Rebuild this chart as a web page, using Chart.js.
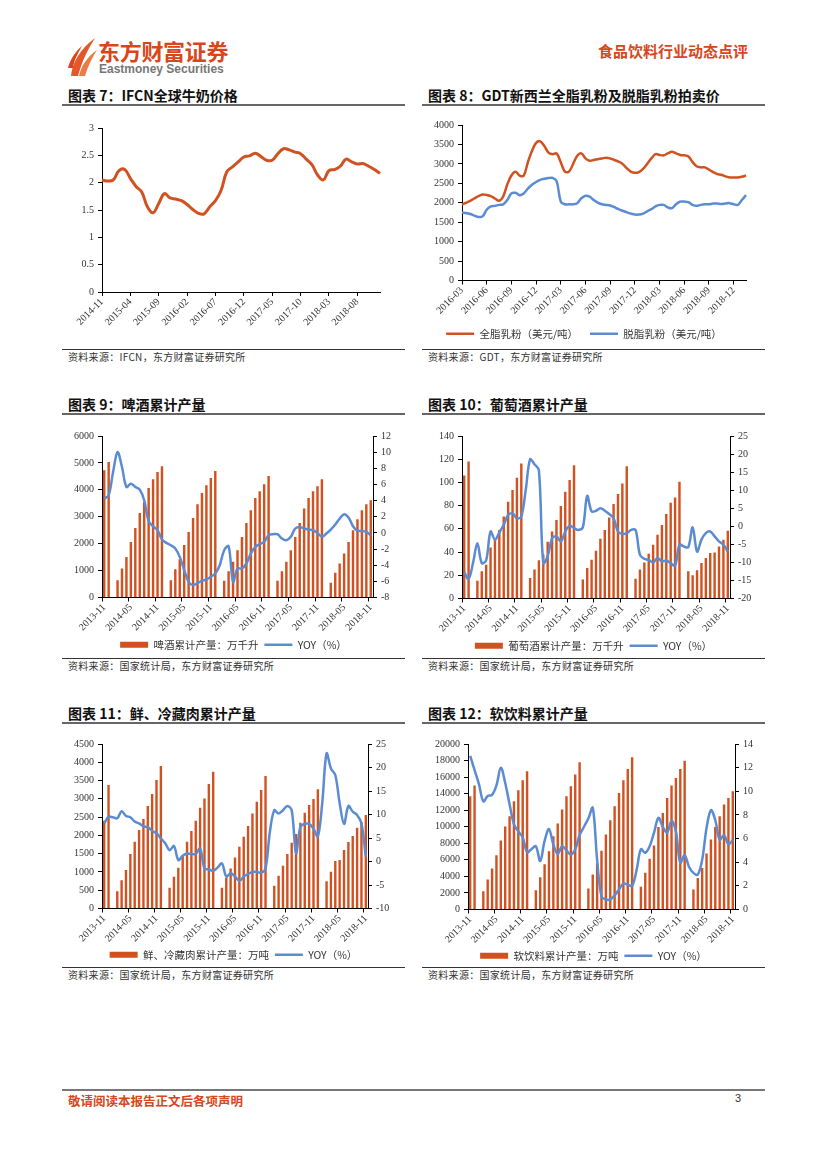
<!DOCTYPE html>
<html>
<head>
<meta charset="utf-8">
<script src="https://cdn.jsdelivr.net/npm/chart.js@4.4.0/dist/chart.umd.min.js"></script>
<style>
body { margin: 0; background: #fff; width: 827px; height: 1169px; position: relative; overflow: hidden; font-family: "Noto Sans CJK SC", sans-serif; }
.abs { position: absolute; }
.title { position: absolute; font-size: 14px; font-weight: bold; color: #111; line-height: 18px; white-space: nowrap; }
.rule { position: absolute; height: 0; border-top: 2px solid #666; }
.srule { position: absolute; height: 0; border-top: 1px solid #333; }
.src { position: absolute; font-size: 10px; color: #333; line-height: 12px; letter-spacing: 0.3px; white-space: nowrap; }
canvas { position: absolute; }
</style>
</head>
<body>

<svg class="abs" style="left:68px;top:37px" width="30" height="40" viewBox="0 0 30 40">
  <path d="M3 39 C4 26 12 12 27 1 C20 12 14 24 10 39 Z" fill="#E4572A"/>
  <path d="M11 39 C13 29 19 20 29 13 C24 21 20 29 17 39 Z" fill="#EE7A45"/>
  <path d="M0 31 C2 23 7 15 14 9 C10 16 6 23 5 31 Z" fill="#D9441C"/>
</svg>
<div class="abs" style="left:98px;top:37px;font-size:22px;font-weight:bold;color:#D8461B;line-height:26px;letter-spacing:-0.3px">东方财富证券</div>
<div class="abs" style="left:99px;top:62px;font-family:'Liberation Sans',sans-serif;font-size:12px;font-weight:bold;color:#777;line-height:14px">Eastmoney Securities</div>
<div class="abs" style="left:598px;top:42px;font-size:15px;font-weight:bold;color:#D8461B;line-height:18px">食品饮料行业动态点评</div>

<div class="title" style="left:68px;top:86px">图表 7：IFCN全球牛奶价格</div>
<div class="title" style="left:428px;top:86px">图表 8：GDT新西兰全脂乳粉及脱脂乳粉拍卖价</div>
<div class="rule" style="left:62px;top:104px;width:343px"></div>
<div class="rule" style="left:422px;top:104px;width:343px"></div>
<div class="srule" style="left:62px;top:349px;width:343px"></div>
<div class="srule" style="left:422px;top:349px;width:343px"></div>
<div class="src" style="left:68px;top:351px">资料来源：IFCN，东方财富证券研究所</div>
<div class="src" style="left:428px;top:351px">资料来源：GDT，东方财富证券研究所</div>

<div class="title" style="left:68px;top:395px">图表 9：啤酒累计产量</div>
<div class="title" style="left:428px;top:395px">图表 10：葡萄酒累计产量</div>
<div class="rule" style="left:62px;top:413px;width:343px"></div>
<div class="rule" style="left:422px;top:413px;width:343px"></div>
<div class="srule" style="left:62px;top:658px;width:343px"></div>
<div class="srule" style="left:422px;top:658px;width:343px"></div>
<div class="src" style="left:68px;top:660px">资料来源：国家统计局，东方财富证券研究所</div>
<div class="src" style="left:428px;top:660px">资料来源：国家统计局，东方财富证券研究所</div>

<div class="title" style="left:68px;top:704px">图表 11：鲜、冷藏肉累计产量</div>
<div class="title" style="left:428px;top:704px">图表 12：软饮料累计产量</div>
<div class="rule" style="left:62px;top:722px;width:343px"></div>
<div class="rule" style="left:422px;top:722px;width:343px"></div>
<div class="srule" style="left:62px;top:967px;width:343px"></div>
<div class="srule" style="left:422px;top:967px;width:343px"></div>
<div class="src" style="left:68px;top:969px">资料来源：国家统计局，东方财富证券研究所</div>
<div class="src" style="left:428px;top:969px">资料来源：国家统计局，东方财富证券研究所</div>

<canvas id="c7" width="343" height="222" style="left:62px;top:115px"></canvas>
<canvas id="c8" width="343" height="237" style="left:422px;top:112px"></canvas>
<canvas id="c9" width="343" height="237" style="left:62px;top:423px"></canvas>
<canvas id="c10" width="343" height="238" style="left:422px;top:423px"></canvas>
<canvas id="c11" width="343" height="239" style="left:62px;top:731px"></canvas>
<canvas id="c12" width="343" height="240" style="left:422px;top:731px"></canvas>

<div class="abs" style="left:62px;top:1089px;width:703px;border-top:2px solid #777"></div>
<div class="abs" style="left:68px;top:1093px;font-size:12.5px;font-weight:bold;color:#D8461B;line-height:16px">敬请阅读本报告正文后各项声明</div>
<div class="abs" style="left:735px;top:1092px;font-family:'Liberation Sans',sans-serif;font-size:11px;color:#333">3</div>

<script>
// month labels like 2013-11
function months(year, month, n) {
  const out = []
  for (let i = 0; i < n; i++) {
    const m = month - 1 + i
    out.push((year + Math.floor(m / 12)) + '-' + String(m % 12 + 1).padStart(2, '0'))
  }
  return out
}

// IFCN milk price
const milkMonths = months(2014, 11, 50)
const milkTicks = ['2014-11', '2015-04', '2015-09', '2016-02', '2016-07', '2016-12', '2017-05', '2017-10', '2018-03', '2018-08']
const milkPrice = [2.05, 2.03, 2.05, 2.22, 2.24, 2.08, 1.93, 1.83, 1.56, 1.45, 1.62, 1.80, 1.72, 1.70,
  1.67, 1.60, 1.51, 1.44, 1.43, 1.56, 1.67, 1.86, 2.20, 2.29, 2.38, 2.47,
  2.49, 2.54, 2.48, 2.41, 2.41, 2.53, 2.62, 2.60, 2.56, 2.53, 2.43, 2.33,
  2.14, 2.05, 2.22, 2.24, 2.30, 2.43, 2.38, 2.34, 2.35, 2.30, 2.24, 2.17]

// GDT auctions, two per month
const gdtDates = months(2016, 3, 35).flatMap(m => [m + '-1', m + '-2'])
const gdtTicks = ['2016-03', '2016-06', '2016-09', '2016-12', '2017-03', '2017-06', '2017-09', '2017-12', '2018-03', '2018-06', '2018-09', '2018-12']
const wholeMilkPowder = [1950, 2000, 2050, 2110, 2170, 2210, 2200, 2170, 2110, 2050,
  2160, 2470, 2700, 2800, 2700, 2700, 3040, 3330, 3540, 3580,
  3460, 3290, 3250, 3270, 3040, 2800, 2800, 3000, 3210, 3270,
  3140, 3080, 3100, 3120, 3140, 3160, 3140, 3100, 3060, 3000,
  2890, 2800, 2770, 2790, 2870, 3000, 3140, 3250, 3230, 3220,
  3270, 3310, 3270, 3230, 3220, 3190, 3050, 2940, 2910, 2910,
  2850, 2790, 2740, 2720, 2680, 2650, 2650, 2650, 2670, 2700]
const skimMilkPowder = [1750, 1735, 1710, 1670, 1635, 1650, 1820, 1905, 1920, 1945,
  1960, 2070, 2240, 2255, 2195, 2240, 2365, 2465, 2535, 2590,
  2615, 2635, 2640, 2550, 2030, 1960, 1960, 1960, 1990, 2115,
  2180, 2155, 2070, 2005, 1960, 1945, 1930, 1885, 1835, 1795,
  1755, 1720, 1695, 1695, 1720, 1780, 1835, 1905, 1945, 1945,
  1880, 1860, 1960, 2030, 2030, 2015, 1945, 1920, 1945, 1960,
  1960, 1980, 1980, 1970, 1980, 1990, 1960, 1945, 2070, 2195]

// NBS cumulative output, 2013-11 .. 2018-11 (no January figures)
const outputMonths = months(2013, 11, 61)
const outputTicks = ['2013-11', '2014-05', '2014-11', '2015-05', '2015-11', '2016-05', '2016-11', '2017-05', '2017-11', '2018-05', '2018-11']

const beerOutput = [4725, 5035, null, 643, 1076, 1509, 2066, 2585, 3142, 3550, 4070, 4391, 4663, 4874,
  null, 643, 1051, 1422, 1954, 2437, 2956, 3464, 3884, 4169, 4441, 4700,
  null, 618, 977, 1324, 1756, 2251, 2771, 3241, 3699, 3946, 4206, 4515,
  null, 618, 977, 1324, 1756, 2251, 2771, 3303, 3699, 3946, 4132, 4391,
  null, 544, 915, 1262, 1633, 2066, 2499, 2907, 3241, 3464, 3612]
const beerYoy = [4.25, 4.66, 7.55, 10.0, 8.16, 5.69, 6.1, 5.69, 5.36, 4.04,
  1.44, 0.8, 0.33, -0.8, -1.24, -1.53, -1.94, -2.97, -4.6, -6.06,
  -6.47, -6.2, -5.94, -5.77, -5.44, -5.03, -4.0, -2.14, -1.65, -6.06,
  -4.41, -4.41, -3.79, -2.56, -1.73, -1.4, -1.11, -0.29, -0.16, -0.16,
  -0.7, -0.91, -0.49, 0.54, 0.74, 0.54, 0.41, 0.33, 0.0, -0.49,
  -0.08, 0.41, 1.03, 1.77, 2.31, 1.9, 0.82, 0.25, 0.25, 0.12, -0.29]

const wineOutput = [106, 118, null, 15.4, 23.4, 29, 44, 51, 59, 70.6, 83.4, 93.4, 104, 116.3,
  null, 17.7, 24.9, 32.9, 38, 49, 57.7, 67.7, 79.7, 92, 102, 114.9,
  null, 16.3, 26.3, 33.4, 41.1, 51.4, 59.1, 69.7, 81.4, 90, 99.1, 114,
  null, 17.1, 24.9, 31.1, 38.6, 46.3, 54.9, 63.4, 72.9, 82.6, 87.1, 100.6,
  null, 23.4, 20, 24.3, 30.6, 34.9, 39.1, 39.7, 44.9, 50.6, 58.3]
const wineYoy = [-12.7, -14.6, -10.2, -4.7, -10.2, -9.4, -1.45, -3.7, -1.7, 0.4,
  3.1, 3.6, 2.2, 2.7, 10.0, 18.5, 17.2, 15.5, -10.2, -8.3,
  -3.3, -2.8, -4.2, -1.45, 0.1, -0.5, -1.0, -0.3, 8.4, 4.1,
  4.3, 5.0, 4.3, 3.4, 2.2, -1.45, -2.1, -1.9, -1.0, -1.0,
  -7.9, -9.0, -9.3, -10.0, -8.8, -9.7, -9.5, -10.2, -10.9, -5.1,
  -5.6, -5.8, -0.3, -7.0, -3.7, -1.9, -1.45, -2.8, -4.2, -5.1, -7.0]

const meatOutput = [2400, 3377, null, 475, 776, 1050, 1488, 1826, 2145, 2446, 2802, 3131, 3514, 3898,
  null, 566, 867, 1114, 1450, 1826, 2118, 2400, 2757, 3012, 3405, 3742,
  null, 566, 840, 1095, 1397, 1689, 1963, 2255, 2601, 2921, 3240, 3624,
  null, 621, 895, 1168, 1488, 1798, 2036, 2346, 2620, 2830, 2994, 3259,
  null, 748, 1004, 1296, 1324, 1597, 1816, 1981, 2209, 2364, 2556]
const meatYoy = [8.1, 9.5, 9.4, 9.2, 10.7, 9.7, 9.4, 8.5, 8.1, 7.5,
  7.3, 6.5, 6.0, 4.9, 3.9, 2.4, 3.3, 0.3, 1.2, 1.7,
  1.6, 1.6, 2.8, -1.5, -1.7, -2.0, -1.3, -0.4, -3.2, -2.5,
  -3.2, -4.1, -3.2, -2.7, -2.2, -2.2, -2.4, -1.5, 6.3, 10.9,
  10.2, 10.9, 11.8, 10.9, 1.7, 7.4, 8.0, 8.0, 7.0, 5.3,
  12.4, 23.0, 19.8, 18.4, 12.4, 8.0, 11.8, 10.6, 9.9, 8.1, 1.0]

const drinkOutput = [13680, 14970, null, 2210, 3620, 4950, 6560, 8330, 10020, 11270, 13080, 14410, 15610, 16700,
  null, 2330, 3900, 5470, 7040, 8850, 10380, 12070, 13680, 14890, 16300, 17790,
  null, 2540, 4230, 5600, 7100, 9050, 10780, 12470, 14080, 15610, 16980, 18390,
  null, 2740, 4430, 6120, 7730, 9980, 11670, 13480, 14970, 15900, 16980, 17990,
  null, 2410, 3820, 5030, 6760, 8450, 9980, 11270, 12680, 13480, 14290]
const drinkYoy = [13.0, 11.8, 10.6, 9.15, 9.6, 9.7, 10.5, 12.0, 10.7, 8.9,
  7.2, 6.6, 6.1, 4.85, 5.1, 5.35, 4.1, 5.8, 6.8, 5.5,
  4.7, 5.35, 5.0, 4.65, 5.1, 6.3, 7.0, 7.7, 8.6, 4.2,
  1.1, 0.85, 0.85, 1.2, 1.7, 2.2, 2.1, 2.0, 3.3, 5.1,
  4.8, 5.35, 6.5, 7.75, 7.0, 6.5, 7.5, 6.6, 3.95, 4.6,
  3.6, 3.1, 2.95, 4.2, 6.9, 8.4, 7.55, 5.9, 6.3, 5.5, 5.9]

const orange = '#D05221'
const blue = '#5B8CD2'
const tickFont = {family: 'Liberation Serif', size: 10}
const tickColor = '#333'

function xAxis(show, label, height) {
  return {
    border: {color: '#000'},
    grid: {drawOnChartArea: false, tickLength: 4, color: c => (c.tick && c.tick.label) ? '#000' : 'rgba(0,0,0,0)'},
    ticks: {
      autoSkip: false, minRotation: 45, maxRotation: 45, padding: 0, font: tickFont, color: tickColor,
      callback: function (v) { const l = this.getLabelForValue(v); return show(l) ? label(l) : '' }
    },
    afterFit: s => { s.height = height }
  }
}

function yAxis(position, min, max, step, width) {
  return {
    position, min, max,
    border: {color: '#000'},
    grid: {drawOnChartArea: false, tickLength: 4, color: '#000'},
    ticks: {stepSize: step, padding: 4, font: tickFont, color: tickColor, callback: v => v},
    afterFit: s => { s.width = width }
  }
}

function legend(padding) {
  return {
    position: 'bottom',
    labels: {
      usePointStyle: true, pointStyleWidth: 28, boxHeight: 6, padding,
      font: {family: 'Noto Sans CJK SC', size: 10.5}, color: '#333',
      sort: (a, b) => a.datasetIndex - b.datasetIndex
    }
  }
}

new Chart(document.getElementById('c7'), {
  type: 'line',
  data: {
    labels: milkMonths,
    datasets: [{data: milkPrice, borderColor: orange, borderWidth: 3, pointRadius: 0, tension: 0.4, fill: false}]
  },
  options: {
    responsive: false, animation: false,
    layout: {padding: {top: 13, right: 25}},
    plugins: {legend: {display: false}, tooltip: {enabled: false}},
    scales: {
      x: xAxis(l => milkTicks.includes(l), l => l, 45),
      y: yAxis('left', 0, 3, 0.5, 40)
    }
  }
})

new Chart(document.getElementById('c8'), {
  type: 'line',
  data: {
    labels: gdtDates,
    datasets: [
      {label: '全脂乳粉（美元/吨）', data: wholeMilkPowder, borderColor: orange, backgroundColor: orange, borderWidth: 2.5, pointRadius: 0, tension: 0.35, pointStyle: 'line'},
      {label: '脱脂乳粉（美元/吨）', data: skimMilkPowder, borderColor: blue, backgroundColor: blue, borderWidth: 2.5, pointRadius: 0, tension: 0.35, pointStyle: 'line'}
    ]
  },
  options: {
    responsive: false, animation: false,
    layout: {padding: {top: 13, right: 19}},
    plugins: {legend: legend(12), tooltip: {enabled: false}},
    scales: {
      x: xAxis(l => l.endsWith('-1') && gdtTicks.includes(l.slice(0, 7)), l => l.slice(0, 7), 36),
      y: yAxis('left', 0, 4000, 500, 40)
    }
  }
})

function combo(id, o) {
  return new Chart(document.getElementById(id), {
    type: 'bar',
    data: {
      labels: outputMonths,
      datasets: [
        {type: 'bar', label: o.barName, data: o.bars, backgroundColor: orange, barPercentage: 0.55, categoryPercentage: 1, yAxisID: 'y', order: 2, pointStyle: 'rect'},
        {type: 'line', label: 'YOY（%）', data: o.yoy, borderColor: blue, backgroundColor: blue, borderWidth: 2.5, pointRadius: 0, tension: 0.35, yAxisID: 'y1', order: 1, pointStyle: 'line'}
      ]
    },
    options: {
      responsive: false, animation: false,
      layout: {padding: {top: 13}},
      plugins: {legend: legend(6), tooltip: {enabled: false}},
      scales: {
        x: xAxis(l => outputTicks.includes(l), l => l, o.xH),
        y: yAxis('left', o.left[0], o.left[1], o.left[2], o.leftW),
        y1: yAxis('right', o.right[0], o.right[1], o.right[2], o.rightW)
      }
    }
  })
}

combo('c9', {barName: '啤酒累计产量：万千升', bars: beerOutput, yoy: beerYoy, left: [0, 6000, 1000], right: [-8, 12, 2], leftW: 40, rightW: 32, xH: 36})
combo('c10', {barName: '葡萄酒累计产量：万千升', bars: wineOutput, yoy: wineYoy, left: [0, 140, 20], right: [-20, 25, 5], leftW: 40, rightW: 35, xH: 36})
combo('c11', {barName: '鲜、冷藏肉累计产量：万吨', bars: meatOutput, yoy: meatYoy, left: [0, 4500, 500], right: [-10, 25, 5], leftW: 40, rightW: 37, xH: 35})
combo('c12', {barName: '软饮料累计产量：万吨', bars: drinkOutput, yoy: drinkYoy, left: [0, 20000, 2000], right: [0, 14, 2], leftW: 46, rightW: 30, xH: 35})
</script>
</body>
</html>
